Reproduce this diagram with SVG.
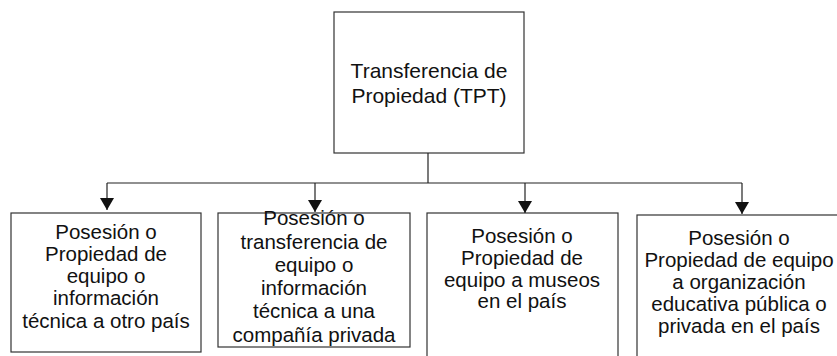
<svg xmlns="http://www.w3.org/2000/svg" width="837" height="356" viewBox="0 0 837 356">
<style>
.box{fill:#fff;stroke:#333;stroke-width:1.2}
.t{font-family:"Liberation Sans",Arial,sans-serif;font-size:20.5px;fill:#111;text-anchor:middle}
.tt{font-size:21px}
.c{fill:none;stroke:#222;stroke-width:1.2}
</style>
<defs>
<marker id="ah" viewBox="0 0 12 14" refX="12" refY="7" markerWidth="12" markerHeight="14" markerUnits="userSpaceOnUse" orient="auto">
<path d="M0,0 L12,7 L0,14 Z" fill="#111"/>
</marker>
</defs>
<rect width="837" height="356" fill="#fff"/>
<g id="node-top">
<rect class="box" x="334" y="12" width="190" height="141"/>
<text class="t tt" x="429" y="78">Transferencia de</text>
<text class="t tt" x="429" y="103">Propiedad (TPT)</text>
</g>
<g id="node-1">
<rect class="box" x="11" y="213" width="190" height="139"/>
<text class="t" x="106" y="239">Posesión o</text>
<text class="t" x="106" y="261">Propiedad de</text>
<text class="t" x="106" y="283">equipo o</text>
<text class="t" x="106" y="305">información</text>
<text class="t" x="106" y="328">técnica a otro país</text>
</g>
<g id="node-2">
<rect class="box" x="218" y="213" width="192" height="134"/>
<text class="t" x="314" y="225">Posesión o</text>
<text class="t" x="314" y="249">transferencia de</text>
<text class="t" x="314" y="272">equipo o</text>
<text class="t" x="314" y="295">información</text>
<text class="t" x="314" y="318">técnica a una</text>
<text class="t" x="314" y="342">compañía privada</text>
</g>
<g id="node-3">
<rect class="box" x="427" y="213" width="191" height="150"/>
<text class="t" x="522" y="243">Posesión o</text>
<text class="t" x="522" y="265">Propiedad de</text>
<text class="t" x="522" y="287">equipo a museos</text>
<text class="t" x="522" y="308">en el país</text>
</g>
<g id="node-4">
<rect class="box" x="637" y="215" width="212" height="150"/>
<text class="t" x="739" y="245">Posesión o</text>
<text class="t" x="739" y="267">Propiedad de equipo</text>
<text class="t" x="739" y="289">a organización</text>
<text class="t" x="739" y="311">educativa pública o</text>
<text class="t" x="739" y="333">privada en el país</text>
</g>
<g id="connectors">
<path class="c" d="M428,153 V183"/>
<path class="c" d="M107,183 H742"/>
<path class="c" d="M107,183 V210" marker-end="url(#ah)"/>
<path class="c" d="M315,183 V212" marker-end="url(#ah)"/>
<path class="c" d="M525,183 V213" marker-end="url(#ah)"/>
<path class="c" d="M742,183 V214" marker-end="url(#ah)"/>
</g>
</svg>
